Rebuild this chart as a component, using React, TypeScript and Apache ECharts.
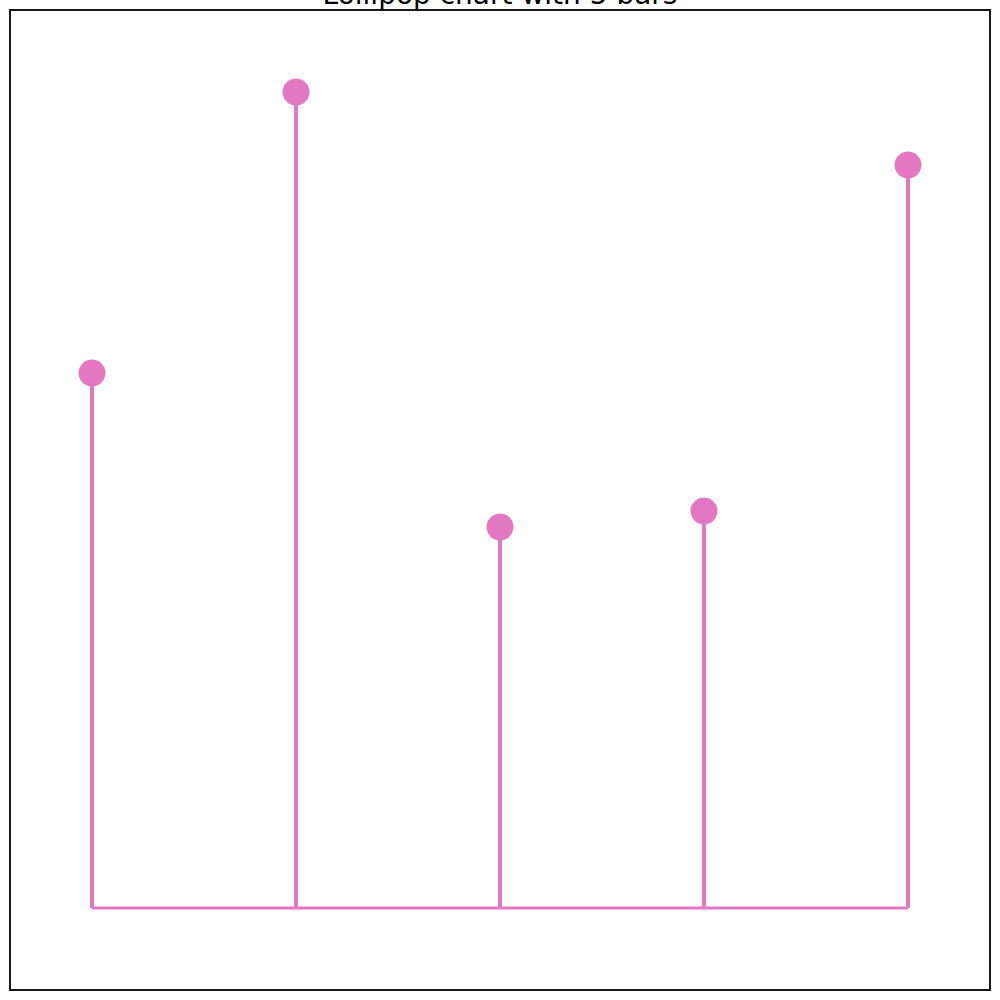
import React, { useEffect, useRef } from "react";
import * as echarts from "echarts";

const categories = [0, 1, 2, 3, 4];
const values = [53.5, 81.6, 38.1, 39.7, 74.3];
const titleText = "Lollipop chart with 5 bars";

export default function App() {
  const ref = useRef<HTMLDivElement>(null);
  useEffect(() => {
    const chart = echarts.init(ref.current!, null, { renderer: "svg" });
    const pts = categories.map((c, i) => [c, values[i]]);
    chart.setOption({
      animation: false,
      grid: {
        left: 10,
        top: 10,
        width: 980,
        height: 980,
        show: true,
        borderColor: "#1a1a1a",
        borderWidth: 2,
        backgroundColor: "#fff",
      },
      xAxis: {
        type: "value",
        min: -0.402,
        max: 4.402,
        show: false,
      },
      yAxis: {
        type: "value",
        min: -8.2,
        max: 89.8,
        show: false,
      },
      graphic: [
        {
          type: "text",
          left: "center",
          top: -20,
          z: 100,
          style: {
            text: titleText,
            fontFamily: "DejaVu Sans",
            fontSize: 28,
            fill: "#000",
          },
        },
      ],
      series: [
        {
          type: "custom",
          data: pts,
          z: 2,
          renderItem: (params: any, api: any) => {
            const x = api.value(0);
            const y = api.value(1);
            const p0 = api.coord([x, 0]);
            const p1 = api.coord([x, y]);
            return {
              type: "line",
              shape: { x1: p0[0], y1: p0[1], x2: p1[0], y2: p1[1] },
              style: { stroke: "#e377c2", lineWidth: 4 },
            };
          },
        },
        {
          type: "line",
          data: [
            [categories[0], 0],
            [categories[categories.length - 1], 0],
          ],
          symbol: "none",
          z: 3,
          lineStyle: { color: "#e377c2", width: 3 },
        },
        {
          type: "scatter",
          data: pts,
          symbol: "circle",
          symbolSize: 27,
          z: 4,
          itemStyle: { color: "#e377c2", opacity: 1 },
        },
      ],
    });
    return () => chart.dispose();
  }, []);
  return <div ref={ref} style={{ width: 1000, height: 1000, position: "absolute", left: 0, top: 0 }} />;
}
